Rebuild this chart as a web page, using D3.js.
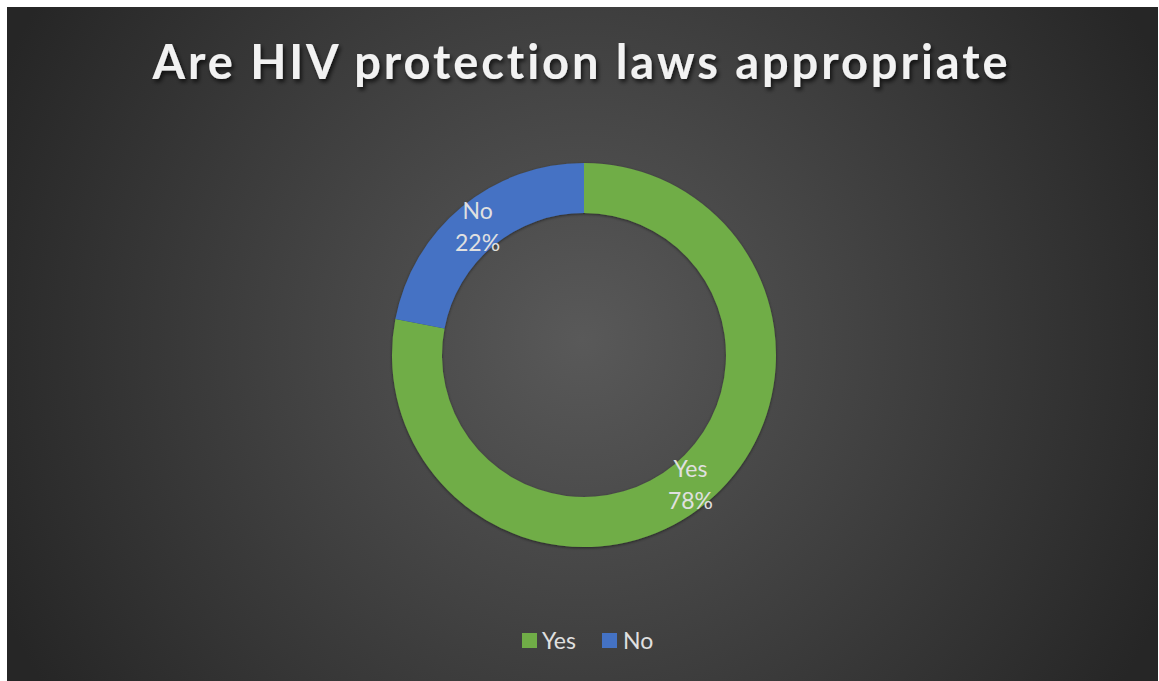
<!DOCTYPE html>
<html><head><meta charset="utf-8">
<script src="https://cdn.jsdelivr.net/npm/d3@7"></script>
<style>
html,body{margin:0;padding:0;background:#fff;}
svg{display:block;}
text{font-variant-ligatures:none;}
</style></head>
<body>
<svg id="chart" width="1159" height="681"></svg>
<script>
const title = "Are HIV protection laws appropriate";
const categories = ["Yes", "No"];
const values = [78, 22];
const colors = ["#70AD47", "#4472C4"];

const W = 1159, H = 681;
const svg = d3.select("#chart");
const defs = svg.append("defs");
const rg = defs.append("radialGradient").attr("id","bg")
  .attr("gradientUnits","userSpaceOnUse").attr("cx",582).attr("cy",340).attr("r",640);
rg.append("stop").attr("offset","0%").attr("stop-color","#595959");
rg.append("stop").attr("offset","100%").attr("stop-color","#262626");
const f = defs.append("filter").attr("id","sh").attr("x","-10%").attr("y","-50%").attr("width","120%").attr("height","200%");
f.append("feDropShadow").attr("dx",2).attr("dy",3).attr("stdDeviation",2).attr("flood-color","#000").attr("flood-opacity",0.7);
const f2 = defs.append("filter").attr("id","rsh").attr("x","-20%").attr("y","-20%").attr("width","140%").attr("height","140%");
f2.append("feDropShadow").attr("dx",0).attr("dy",1).attr("stdDeviation",1.5).attr("flood-color","#000").attr("flood-opacity",0.5);

svg.append("rect").attr("x",7).attr("y",7).attr("width",W-8).attr("height",H-7).attr("fill","url(#bg)");

svg.append("text").attr("x",580).attr("y",79).attr("text-anchor","middle")
  .attr("font-family","Lato, 'Open Sans', sans-serif").attr("font-weight","bold")
  .attr("font-size",47).attr("fill","#f2f2f2").attr("filter","url(#sh)")
  .attr("textLength",855).attr("lengthAdjust","spacing")
  .text(title);

const cx = 584, cy = 355, rOuter = 192, rInner = 142;
const pie = d3.pie().sort(null).value(d => d.v);
const arcs = pie(categories.map((c,i)=>({c, v: values[i], col: colors[i]})));
const arc = d3.arc().innerRadius(rInner).outerRadius(rOuter);
const labelArc = d3.arc().innerRadius((rInner+rOuter)/2).outerRadius((rInner+rOuter)/2);
const color = d3.scaleOrdinal().domain(categories).range(colors);

const g = svg.append("g").attr("transform",`translate(${cx},${cy})`);
g.append("g").attr("filter","url(#rsh)").selectAll("path").data(arcs).join("path")
  .attr("d",arc).attr("fill",d=>color(d.data.c));

const total = d3.sum(values);
const lab = g.selectAll("text.lab").data(arcs).join("text").attr("class","lab")
  .attr("transform",d=>`translate(${labelArc.centroid(d)})`)
  .attr("text-anchor","middle")
  .attr("font-family","Lato, 'Open Sans', sans-serif").attr("font-size",23)
  .attr("fill","#e0e0e0");
lab.append("tspan").attr("x",0).attr("y",-7).text(d=>d.data.c);
lab.append("tspan").attr("x",0).attr("y",25).text(d=>Math.round(d.data.v/total*100)+"%");

// legend
const legend = svg.append("g");
const items = [{x:522, tx:20},{x:602, tx:21}];
categories.forEach((c,i)=>{
  const lg = legend.append("g").attr("transform",`translate(${items[i].x},633)`);
  lg.append("rect").attr("width",15).attr("height",15).attr("fill",color(c));
  lg.append("text").attr("x",items[i].tx).attr("y",16)
    .attr("font-family","Lato, 'Open Sans', sans-serif").attr("font-size",23)
    .attr("fill","#e0e0e0").text(c);
});
</script>
</body></html>
